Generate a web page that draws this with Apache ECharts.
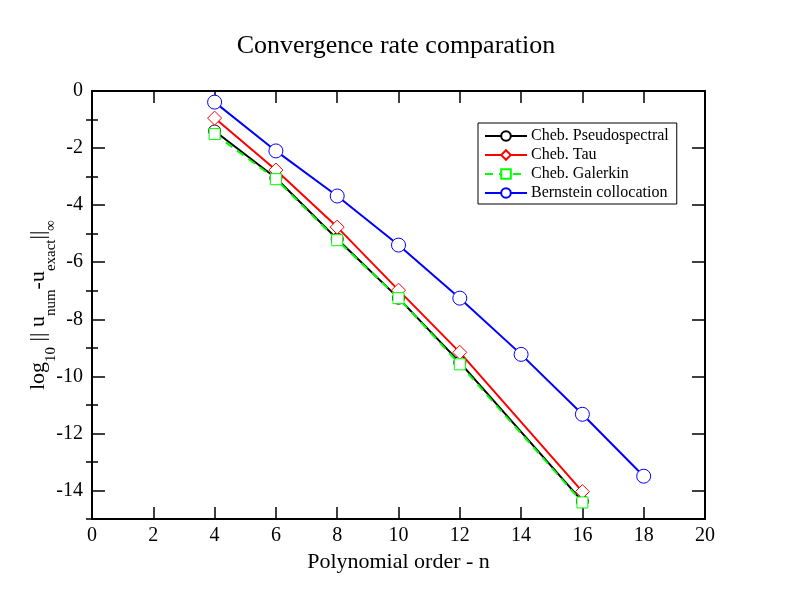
<!DOCTYPE html>
<html>
<head>
<meta charset="utf-8">
<script src="https://cdn.jsdelivr.net/npm/echarts@6/dist/echarts.min.js"></script>
<style>html,body{margin:0;padding:0;background:#fff}#c{width:792px;height:612px}</style>
</head>
<body>
<div id="c"></div>
<script>
const xPseudo = [4, 6, 8, 10, 12, 16];
const yPseudo = [-1.40, -3.05, -5.19, -7.26, -9.51, -14.38];
const xTau = [4, 6, 8, 10, 12, 16];
const yTau = [-0.95, -2.77, -4.77, -6.98, -9.16, -14.04];
const xGalerkin = [4, 6, 8, 10, 12, 16];
const yGalerkin = [-1.51, -3.09, -5.23, -7.26, -9.58, -14.42];
const xBern = [4, 6, 8, 10, 12, 14, 16, 18];
const yBern = [-0.39, -2.10, -3.68, -5.40, -7.26, -9.23, -11.33, -13.50];
const seriesNames = ['Cheb. Pseudospectral', 'Cheb. Tau', 'Cheb. Galerkin', 'Bernstein collocation'];
const yMajorTicks = [-14, -12, -10, -8, -6, -4, -2, 0];
const yMinorTicks = [-15, -13, -11, -9, -7, -5, -3, -1];

const zip = (xs, ys) => xs.map((x, i) => [x, ys[i]]);
const font = 'Liberation Serif, Times New Roman, serif';
const chart = echarts.init(document.getElementById('c'), null, {renderer: 'canvas'});

function mkSeries(name, data, color, symbol, size, dashed) {
  return {
    name: name, type: 'line', data: data, xAxisIndex: 0, yAxisIndex: 0,
    symbol: symbol, symbolSize: size, showSymbol: true,
    lineStyle: {color: color, width: 2, type: dashed ? [8, 6] : 'solid'},
    itemStyle: {color: '#fff', borderColor: color, borderWidth: 1},
    emphasis: {disabled: true}, animation: false, z: 3
  };
}

function yAx(pos, ticks, len, opts) {
  return Object.assign({
    type: 'value', min: -15, max: 0, position: pos,
    axisLine: {show: true, onZero: false, lineStyle: {color: '#000', width: 2}},
    axisTick: {show: true, inside: true, length: len, customValues: ticks, lineStyle: {color: '#000', width: 1.5}},
    axisLabel: {show: false},
    splitLine: {show: false}
  }, opts || {});
}

const option = {
  backgroundColor: '#fff',
  animation: false,
  title: {
    text: 'Convergence rate comparation', left: 'center', top: 28,
    textStyle: {fontFamily: font, fontSize: 26, fontWeight: 'normal', color: '#000'}
  },
  legend: {
    left: 478, top: 123, orient: 'vertical',
    data: seriesNames,
    backgroundColor: '#fff', borderColor: '#000', borderWidth: 1,
    padding: [5, 8, 3, 6], itemGap: 3, itemWidth: 42, itemHeight: 12,
    textStyle: {fontFamily: font, fontSize: 16, color: '#000', padding: [0, 0, 0, -1]}
  },
  grid: {left: 92, right: 87, top: 91, bottom: 93, containLabel: false, show: false},
  xAxis: [{
    type: 'value', min: 0, max: 20, interval: 2, position: 'bottom',
    name: 'Polynomial order - n', nameLocation: 'middle', nameGap: 28,
    nameTextStyle: {fontFamily: font, fontSize: 22, color: '#000'},
    axisLine: {show: true, onZero: false, lineStyle: {color: '#000', width: 2}},
    axisTick: {show: true, inside: true, length: 12, lineStyle: {color: '#000', width: 1.5}},
    axisLabel: {fontFamily: font, fontSize: 20, color: '#000', margin: 7},
    splitLine: {show: false}
  }, {
    type: 'value', min: 0, max: 20, interval: 2, position: 'top',
    axisLine: {show: true, onZero: false, lineStyle: {color: '#000', width: 2}},
    axisTick: {show: true, inside: true, length: 12, lineStyle: {color: '#000', width: 1.5}},
    axisLabel: {show: false}, splitLine: {show: false}
  }],
  yAxis: [
    yAx('left', yMajorTicks, 13, {
      name: '{n|log}{s|10}{n| || u}{s|num}{n|-u}{s|exact}{n|||}{s|∞}',
      nameLocation: 'middle', nameGap: 37, nameRotate: 90, nameMoveOverlap: false,
      nameTextStyle: {
        fontFamily: font, color: '#000',
        rich: {
          n: {fontFamily: font, fontSize: 22, color: '#000', lineHeight: 28, verticalAlign: 'top'},
          s: {fontFamily: font, fontSize: 15, color: '#000', lineHeight: 28, verticalAlign: 'bottom', padding: [0, 0, -4, 0]}
        }
      },
      axisLabel: {show: true, fontFamily: font, fontSize: 20, color: '#000', margin: 9, customValues: yMajorTicks}
    }),
    yAx('right', yMajorTicks, 13),
    yAx('left', yMinorTicks, 6, {axisLine: {show: false}}),
    yAx('right', yMinorTicks, 6, {axisLine: {show: false}})
  ],
  series: [
    mkSeries(seriesNames[0], zip(xPseudo, yPseudo), '#000000', 'circle', 12, false),
    mkSeries(seriesNames[1], zip(xTau, yTau), '#ff0000', 'diamond', 14, false),
    mkSeries(seriesNames[2], zip(xGalerkin, yGalerkin), '#00ff00', 'rect', 11, true),
    mkSeries(seriesNames[3], zip(xBern, yBern), '#0000ff', 'circle', 14, false)
  ]
};
chart.setOption(option);
</script>
</body>
</html>
